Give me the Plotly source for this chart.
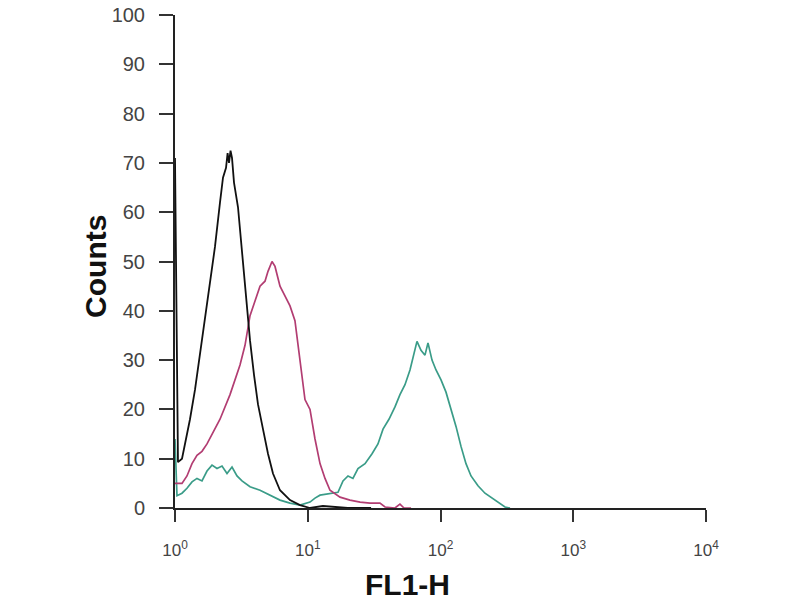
import plotly.graph_objects as go

# FL1-H intensity (log scale) and counts for each histogram
black_x = [1.0, 1.053, 1.129, 1.21, 1.297, 1.415, 1.543, 1.683, 1.835, 2.001, 2.183, 2.299,
           2.423, 2.49, 2.552, 2.62, 2.688, 2.783, 2.983, 3.197, 3.426, 3.673, 3.937, 4.22,
           4.601, 5.018, 5.472, 6.18, 7.35, 8.74, 10.4, 13.0, 20.0, 30.0]
black_y = [71, 9.3, 10, 14, 18, 24, 31, 38, 45, 53, 62, 67,
           69, 72, 70, 72.5, 71, 66, 61, 52, 42, 34, 27, 21,
           16, 11, 7, 3.6, 1.6, 0.6, 0, 0.4, 0, 0]

pink_x = [1.0, 1.035, 1.129, 1.231, 1.343, 1.464, 1.597, 1.742, 1.9, 2.183, 2.597, 3.088,
          3.368, 3.673, 4.006, 4.369, 4.764, 5.018, 5.379, 5.666, 6.18, 6.74, 7.35, 8.01,
          8.74, 9.53, 10.4, 11.34, 12.37, 13.49, 14.71, 17.5, 20.8, 24.8, 29.4, 35.0,
          38.2, 45.4, 49.5, 53.1, 60.0]
pink_y = [5, 5, 5, 6.5, 9, 10.7, 11.5, 13, 15, 18, 23, 29,
          33, 39, 42, 45, 46, 48, 50, 49, 45, 43, 41, 38,
          30, 22, 20, 14, 9, 6, 3.6, 2.2, 1.6, 1.2, 1.0, 1.0,
          0.2, 0, 0.8, 0, 0]

teal_x = [1.0, 1.035, 1.129, 1.231, 1.343, 1.464, 1.597, 1.742, 1.9, 2.072, 2.26, 2.465,
          2.688, 2.931, 3.197, 3.673, 4.369, 5.195, 6.18, 7.35, 8.74, 10.4, 11.34, 12.37,
          14.71, 16.9, 18.43, 20.1, 21.9, 23.9, 27.0, 30.5, 33.8, 36.9, 40.9, 45.4,
          49.5, 54.0, 58.9, 63.1, 66.5, 71.3, 76.4, 80.5, 86.3, 92.5, 100.9, 110,
          120, 131, 142.7, 155.6, 169.8, 191.6, 216.3, 244.2, 280.7, 306, 334]
teal_y = [14, 2.5, 3, 4, 5.3, 6, 5.5, 7.5, 8.7, 8, 8.5, 7,
          8.3, 6.5, 5.5, 4.3, 3.6, 2.6, 1.6, 1.0, 0.6, 1.2, 2, 2.6,
          3, 3.2, 5.5, 6.5, 6, 8, 9, 11, 13, 16, 18, 20.5,
          23, 25, 28, 31, 33.8, 32, 31, 33.5, 30, 28, 26, 23.5,
          20, 16.5, 12.5, 9, 6.5, 4.5, 3, 2, 1, 0.2, 0]

y_ticks = [0, 10, 20, 30, 40, 50, 60, 70, 80, 90, 100]
x_tickvals = [1, 10, 100, 1000, 10000]
x_ticktext = ["10<sup>0</sup>", "10<sup>1</sup>", "10<sup>2</sup>", "10<sup>3</sup>", "10<sup>4</sup>"]

fig = go.Figure()
fig.add_trace(go.Scatter(x=teal_x, y=teal_y, mode="lines",
                         line=dict(color="#3a9c88", width=1.7), showlegend=False))
fig.add_trace(go.Scatter(x=pink_x, y=pink_y, mode="lines",
                         line=dict(color="#b23d72", width=1.7), showlegend=False))
fig.add_trace(go.Scatter(x=black_x, y=black_y, mode="lines",
                         line=dict(color="#111111", width=1.8), showlegend=False))

fig.update_layout(
    width=800, height=600,
    margin=dict(l=175, r=94, t=15, b=92),
    paper_bgcolor="white", plot_bgcolor="white",
    font=dict(family="Liberation Sans, Arial, sans-serif", color="#333333"),
    xaxis=dict(type="log", range=[0, 4], tickvals=x_tickvals, ticktext=x_ticktext,
               automargin=False, ticklabeloverflow="allow",
               showgrid=False, zeroline=False, showline=True, linecolor="#222222",
               linewidth=2, ticks="outside", ticklen=12, tickwidth=2, tickcolor="#333333",
               ticklabelstandoff=14,
               tickfont=dict(size=17, color="#444444")),
    yaxis=dict(range=[0, 100], tickvals=y_ticks, showgrid=False, zeroline=False,
               automargin=False, ticklabeloverflow="allow",
               showline=True, linecolor="#222222", linewidth=2, ticks="outside",
               ticklen=14, tickwidth=2, tickcolor="#333333",
               ticklabelstandoff=10,
               tickfont=dict(size=20, color="#444444")),
    annotations=[
        dict(text="<b>Counts</b>", xref="paper", yref="paper", x=-0.1488, y=0.491,
             textangle=-90, showarrow=False, font=dict(size=30, color="#111111"),
             xanchor="center", yanchor="middle"),
        dict(text="<b>FL1-H</b>", xref="paper", yref="paper", x=0.4379, y=-0.156,
             showarrow=False, font=dict(size=30, color="#111111"),
             xanchor="center", yanchor="middle"),
    ],
)

fig.write_html("out.html", config={"displayModeBar": False},
               post_script="document.body.style.margin='0';")
